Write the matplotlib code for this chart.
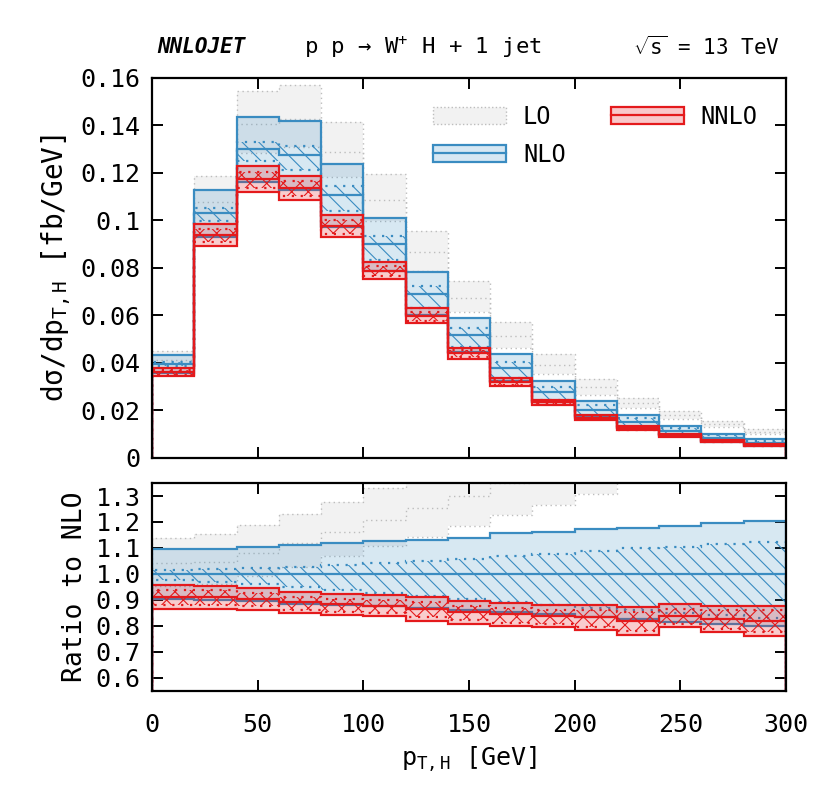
import numpy as np
import matplotlib
matplotlib.use("Agg")
import matplotlib.pyplot as plt
from matplotlib.patches import Patch
from matplotlib.lines import Line2D
from matplotlib.ticker import FuncFormatter

plt.rcParams['font.family'] = ['DejaVu Sans Mono', 'DejaVu Sans']
plt.rcParams['mathtext.fontset'] = 'custom'
plt.rcParams['mathtext.rm'] = 'DejaVu Sans Mono'
plt.rcParams['mathtext.it'] = 'DejaVu Sans Mono'
plt.rcParams['hatch.linewidth'] = 0.8

# bins in p_T,H [GeV]
pt_edges = [0, 20, 40, 60, 80, 100, 120, 140, 160, 180, 200, 220, 240, 260, 280, 300]

# NLO central value [fb/GeV]
nlo_central = [0.0396, 0.1031, 0.1298, 0.1276, 0.1106, 0.0898, 0.0690, 0.0517,
               0.0378, 0.0278, 0.0203, 0.0152, 0.0112, 0.0084, 0.0064]

# everything below is ratio to NLO central
lo_hi = [1.140, 1.152, 1.188, 1.231, 1.277, 1.331, 1.386, 1.441, 1.515, 1.572, 1.630, 1.665, 1.760, 1.850, 1.890]
lo_mid = [1.040, 1.046, 1.081, 1.118, 1.163, 1.208, 1.254, 1.301, 1.351, 1.405, 1.460, 1.510, 1.590, 1.670, 1.710]
lo_lo = [0.955, 0.960, 0.990, 1.025, 1.069, 1.108, 1.141, 1.183, 1.226, 1.265, 1.308, 1.380, 1.450, 1.520, 1.560]

nlo_hi = [1.094, 1.094, 1.104, 1.111, 1.120, 1.126, 1.131, 1.138, 1.156, 1.162, 1.172, 1.177, 1.184, 1.197, 1.203]
nlo_dhi = [1.016, 1.019, 1.024, 1.028, 1.034, 1.041, 1.050, 1.056, 1.068, 1.078, 1.087, 1.098, 1.104, 1.117, 1.123]
nlo_c = [1.0] * 15
nlo_dlo = [0.975, 0.968, 0.961, 0.950, 0.938, 0.925, 0.915, 0.903, 0.890, 0.880, 0.870, 0.860, 0.850, 0.840, 0.830]
nlo_lo = [0.904, 0.900, 0.895, 0.885, 0.880, 0.876, 0.870, 0.862, 0.853, 0.845, 0.835, 0.828, 0.815, 0.808, 0.800]

nnlo_hi = [0.956, 0.955, 0.947, 0.930, 0.924, 0.917, 0.911, 0.896, 0.888, 0.881, 0.881, 0.872, 0.882, 0.878, 0.878]
nnlo_dhi = [0.937, 0.936, 0.928, 0.912, 0.905, 0.898, 0.892, 0.878, 0.870, 0.862, 0.862, 0.854, 0.863, 0.860, 0.860]
nnlo_c = [0.910, 0.910, 0.905, 0.890, 0.882, 0.876, 0.866, 0.853, 0.845, 0.838, 0.832, 0.820, 0.838, 0.826, 0.820]
nnlo_dlo = [0.879, 0.879, 0.875, 0.862, 0.853, 0.850, 0.833, 0.821, 0.812, 0.808, 0.795, 0.779, 0.808, 0.788, 0.775]
nnlo_lo = [0.866, 0.866, 0.862, 0.849, 0.840, 0.837, 0.820, 0.808, 0.799, 0.795, 0.782, 0.766, 0.795, 0.775, 0.762]

BLUE = '#3a8cc1'
RED = '#e41a1c'
GREY = '#bdbdbd'
dots = (0, (1, 3))

fig = plt.figure(figsize=(8.3, 8.06), dpi=100)
ax1 = fig.add_axes([0.1831, 0.4321, 0.7639, 0.4715])
ax2 = fig.add_axes([0.1831, 0.1431, 0.7639, 0.2576])


def draw(ax, scale):
    s = np.asarray(scale)
    f = lambda a: np.asarray(a) * s
    # LO
    ax.stairs(f(lo_hi), pt_edges, baseline=f(lo_lo), fill=True, color='#f2f2f2', lw=0, zorder=1)
    for arr in (lo_hi, lo_lo, lo_mid):
        ax.stairs(f(arr), pt_edges, color=GREY, lw=1.0, ls=(0, (1, 2.5)), zorder=1.5)
    # NLO
    ax.stairs(f(nlo_hi), pt_edges, baseline=f(nlo_lo), fill=True, color=BLUE, alpha=0.2, lw=0, zorder=2)
    ax.stairs(f(nlo_dhi), pt_edges, baseline=f(nlo_dlo), fill=True, facecolor='none',
              edgecolor=BLUE, hatch='\\\\', lw=0, zorder=2.1)
    for arr in (nlo_hi, nlo_lo, nlo_c):
        ax.stairs(f(arr), pt_edges, color=BLUE, lw=1.6, zorder=2.5)
    for arr in (nlo_dhi, nlo_dlo):
        ax.stairs(f(arr), pt_edges, color=BLUE, lw=1.6, ls=dots, zorder=2.5)
    # NNLO
    ax.stairs(f(nnlo_hi), pt_edges, baseline=f(nnlo_lo), fill=True, color=RED, alpha=0.22, lw=0, zorder=3)
    ax.stairs(f(nnlo_dhi), pt_edges, baseline=f(nnlo_dlo), fill=True, facecolor='none',
              edgecolor=RED, hatch='xx', lw=0, zorder=3.1)
    for arr in (nnlo_hi, nnlo_lo, nnlo_c):
        ax.stairs(f(arr), pt_edges, color=RED, lw=1.6, zorder=3.5)
    for arr in (nnlo_dhi, nnlo_dlo):
        ax.stairs(f(arr), pt_edges, color=RED, lw=1.6, ls=dots, zorder=3.5)


draw(ax1, nlo_central)
draw(ax2, np.ones(15))

for ax in (ax1, ax2):
    ax.set_xlim(0, 300)
    ax.set_xticks([0, 50, 100, 150, 200, 250, 300])
    ax.tick_params(direction='in', length=8, width=1.4, labelsize=18,
                   top=True, right=True, pad=8)
    for sp in ax.spines.values():
        sp.set_linewidth(1.6)
        sp.set_zorder(5)

ax1.set_ylim(0, 0.16)
ax1.set_yticks([0, 0.02, 0.04, 0.06, 0.08, 0.1, 0.12, 0.14, 0.16])
ax1.yaxis.set_major_formatter(FuncFormatter(lambda v, p: '%g' % round(v, 3)))
ax1.tick_params(labelbottom=False)
ax1.set_ylabel(r'dσ/dp$_{\mathrm{T,H}}$ [fb/GeV]', fontsize=20, labelpad=6)

ax2.set_ylim(0.55, 1.35)
ax2.set_yticks([0.6, 0.7, 0.8, 0.9, 1.0, 1.1, 1.2, 1.3])
ax2.yaxis.set_major_formatter(FuncFormatter(lambda v, p: '%.1f' % v))
ax2.tick_params(axis='x', pad=16)
ax2.set_ylabel('Ratio to NLO', fontsize=19, labelpad=6)
ax2.set_xlabel(r'p$_{\mathrm{T,H}}$ [GeV]', fontsize=18, labelpad=6)

fig.align_ylabels([ax1, ax2])

handles = [
    Patch(facecolor='#f2f2f2', edgecolor=GREY, linestyle=':', lw=1.0),
    (Patch(facecolor='#d6e7f3', edgecolor=BLUE, lw=1.6), Line2D([], [], color=BLUE, lw=1.6)),
    (Patch(facecolor='#f9c8ca', edgecolor=RED, lw=1.6), Line2D([], [], color=RED, lw=1.6)),
]
ax1.legend(handles, ['LO', 'NLO', 'NNLO'], ncol=2, loc='upper left',
           bbox_to_anchor=(0.41, 0.985), frameon=False, fontsize=17,
           handlelength=3.1, handleheight=0.75, handletextpad=0.7,
           columnspacing=1.9, labelspacing=0.6)

fig.text(157 / 830, 1 - 47 / 806, 'NNLOJET', fontsize=15, fontweight='bold',
         fontstyle='italic', ha='left', va='center')
fig.text(423 / 830, 1 - 47 / 806, 'p p → W$^{+}$ H + 1 jet', fontsize=16,
         ha='center', va='center')
fig.text(780 / 830, 1 - 47 / 806, r'$\sqrt{\mathrm{s}}$ = 13 TeV', fontsize=15,
         ha='right', va='center')

fig.savefig('out.png', dpi=100)
